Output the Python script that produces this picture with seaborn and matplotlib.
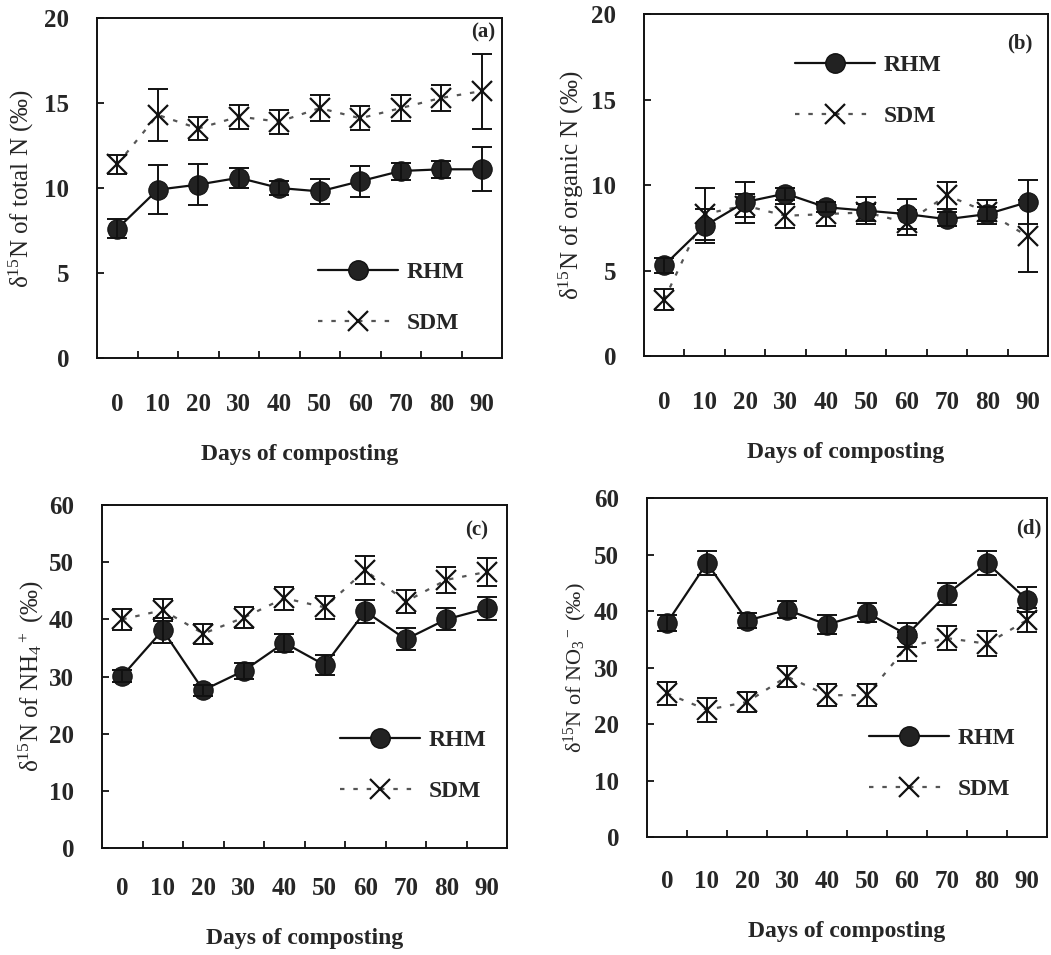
import numpy as np
import pandas as pd
import matplotlib
matplotlib.use("Agg")
import matplotlib.pyplot as plt
from matplotlib.lines import Line2D
import seaborn as sns

# Sampling days and measured δ15N values (mean ± error) for the two manures
days = [0, 10, 20, 30, 40, 50, 60, 70, 80, 90]

total_rhm = [7.6, 9.9, 10.2, 10.6, 10.0, 9.8, 10.4, 11.0, 11.1, 11.1]
total_rhm_err = [0.55, 1.45, 1.2, 0.6, 0.4, 0.75, 0.9, 0.5, 0.5, 1.3]
total_sdm = [11.4, 14.3, 13.5, 14.2, 13.9, 14.7, 14.1, 14.7, 15.3, 15.7]
total_sdm_err = [0.55, 1.55, 0.65, 0.7, 0.7, 0.75, 0.7, 0.75, 0.75, 2.2]

org_rhm = [5.3, 7.6, 9.0, 9.5, 8.7, 8.5, 8.3, 8.0, 8.3, 9.0]
org_rhm_err = [0.45, 1.0, 1.2, 0.35, 0.3, 0.8, 0.9, 0.4, 0.4, 1.28]
org_sdm = [3.3, 8.3, 8.8, 8.2, 8.3, 8.4, 7.8, 9.4, 8.4, 7.0]
org_sdm_err = [0.6, 1.5, 0.7, 0.7, 0.7, 0.5, 0.75, 0.8, 0.7, 2.1]

nh4_rhm = [30.1, 38.1, 27.6, 31.0, 35.9, 32.0, 41.4, 36.5, 40.0, 41.9]
nh4_rhm_err = [1.0, 2.2, 1.0, 1.4, 1.6, 1.7, 2.0, 1.9, 1.95, 2.0]
nh4_sdm = [40.0, 41.6, 37.5, 40.3, 43.7, 42.1, 48.6, 43.1, 46.9, 48.3]
nh4_sdm_err = [1.8, 1.95, 1.75, 1.9, 2.0, 2.0, 2.4, 2.0, 2.3, 2.4]

no3_rhm = [37.9, 48.5, 38.3, 40.2, 37.6, 39.7, 35.8, 43.0, 48.5, 42.0]
no3_rhm_err = [1.4, 2.2, 1.3, 1.5, 1.7, 1.7, 2.1, 1.9, 2.1, 2.2]
no3_sdm = [25.4, 22.5, 23.9, 28.4, 25.1, 25.1, 33.7, 35.2, 34.2, 38.4]
no3_sdm_err = [2.1, 2.1, 1.8, 1.9, 2.0, 1.9, 2.5, 2.1, 2.2, 2.1]

series_names = ["RHM", "SDM"]
panel_tags = ["(a)", "(b)", "(c)", "(d)"]
y_titles = [
    "δ$^{15}$N of total N (‰)",
    "δ$^{15}$N of organic N (‰)",
    "δ$^{15}$N of NH$_4$$^+$ (‰)",
    "δ$^{15}$N of NO$_3$$^-$ (‰)",
]
x_title = "Days of composting"

sns.set_theme(style="white")
plt.rcParams["font.family"] = ["Liberation Serif", "DejaVu Serif"]
plt.rcParams["mathtext.fontset"] = "custom"
plt.rcParams["mathtext.rm"] = "Liberation Serif"
plt.rcParams["mathtext.it"] = "Liberation Serif:italic"
plt.rcParams["mathtext.bf"] = "Liberation Serif:bold"
plt.rcParams["mathtext.default"] = "regular"

W, H = 1051, 955
fig = plt.figure(figsize=(W / 100, H / 100), dpi=100)
fig.patch.set_facecolor("white")


def px_axes(left, top, right, bottom):
    return fig.add_axes([left / W, 1 - bottom / H, (right - left) / W, (bottom - top) / H])


panels = [
    dict(box=(97, 18, 502, 358), ymax=20, ystep=5,
         rhm=(total_rhm, total_rhm_err), sdm=(total_sdm, total_sdm_err),
         leg=(0.726, 0.176), tag=(0.953, 0.956), yfs=18, ylp=6,
         xpad=25, xlp=20),
    dict(box=(644, 14, 1048, 356), ymax=20, ystep=5,
         rhm=(org_rhm, org_rhm_err), sdm=(org_sdm, org_sdm_err),
         leg=(0.554, 0.776), tag=(0.93, 0.913), yfs=18, ylp=4,
         xpad=25, xlp=20),
    dict(box=(102, 505, 507, 848), ymax=60, ystep=10,
         rhm=(nh4_rhm, nh4_rhm_err), sdm=(nh4_sdm, nh4_sdm_err),
         leg=(0.768, 0.239), tag=(0.926, 0.927), yfs=18, ylp=2,
         xpad=21, xlp=20),
    dict(box=(647, 498, 1047, 837), ymax=60, ystep=10,
         rhm=(no3_rhm, no3_rhm_err), sdm=(no3_sdm, no3_sdm_err),
         leg=(0.7375, 0.215), tag=(0.955, 0.91), yfs=16, ylp=4,
         xpad=24, xlp=20),
]

pos = np.arange(len(days))
ink = "#111111"
dot_style = (0, (2, 4))

for p, tag, ytitle in zip(panels, panel_tags, y_titles):
    ax = px_axes(*p["box"])
    rhm_vals, rhm_err = p["rhm"]
    sdm_vals, sdm_err = p["sdm"]
    df = pd.DataFrame({"pos": pos, "RHM": rhm_vals, "SDM": sdm_vals})

    # SDM: dotted grey line with crosses
    sns.lineplot(data=df, x="pos", y="SDM", ax=ax, color="#555555",
                 linestyle=dot_style, linewidth=1.6, marker="x",
                 markersize=14, markeredgewidth=1.6, markeredgecolor=ink,
                 zorder=3, legend=False)
    ax.errorbar(pos, sdm_vals, yerr=sdm_err, fmt="none", ecolor=ink,
                elinewidth=1.4, capsize=7.5, capthick=1.4, zorder=4)

    # RHM: solid black line with filled circles
    sns.lineplot(data=df, x="pos", y="RHM", ax=ax, color=ink,
                 linewidth=1.6, marker="o", markersize=14,
                 markerfacecolor="#222222", markeredgecolor=ink,
                 zorder=5, legend=False)
    ax.errorbar(pos, rhm_vals, yerr=rhm_err, fmt="none", ecolor=ink,
                elinewidth=1.4, capsize=7.5, capthick=1.4, zorder=6)

    ax.set_xlim(-0.5, len(days) - 0.5)
    ax.set_ylim(0, p["ymax"])
    ax.set_yticks(np.arange(0, p["ymax"] + 0.1, p["ystep"]))
    ax.set_yticklabels([f"{v:g}" for v in ax.get_yticks()],
                       fontsize=18, fontweight="bold")
    ax.set_xticks(pos)
    ax.set_xticklabels([str(d) for d in days], fontsize=18, fontweight="bold")
    ax.set_xticks(pos[:-1] + 0.5, minor=True)
    ax.tick_params(axis="x", which="major", length=0, pad=p["xpad"])
    ax.tick_params(axis="x", which="minor", direction="in", length=5,
                   width=1.3, color=ink, bottom=True)
    ax.tick_params(axis="y", which="major", direction="in", length=5,
                   width=1.3, color=ink, left=True, pad=20)
    ax.set_xlabel(x_title, fontsize=17, fontweight="bold", labelpad=p["xlp"])
    ax.set_ylabel(ytitle, fontsize=p["yfs"], labelpad=p["ylp"])
    for s in ax.spines.values():
        s.set_visible(True)
        s.set_color(ink)
        s.set_linewidth(1.4)
    ax.grid(False)
    ax.set_facecolor("white")

    ax.text(p["tag"][0], p["tag"][1], tag, transform=ax.transAxes,
            ha="center", va="center", fontsize=15, fontweight="bold")

    handles = [
        Line2D([], [], color=ink, linewidth=1.6, marker="o", markersize=14,
               markerfacecolor="#222222", markeredgecolor=ink),
        Line2D([], [], color="#555555", linestyle=dot_style, linewidth=1.6,
               marker="x", markersize=14, markeredgewidth=1.6,
               markeredgecolor=ink),
    ]
    ax.legend(handles, series_names, loc="center",
              bbox_to_anchor=p["leg"], frameon=False, numpoints=1,
              handlelength=3.4, handletextpad=0.35, labelspacing=1.25,
              prop={"weight": "bold", "size": 17})

fig.savefig("out.png", dpi=100, facecolor="white")
